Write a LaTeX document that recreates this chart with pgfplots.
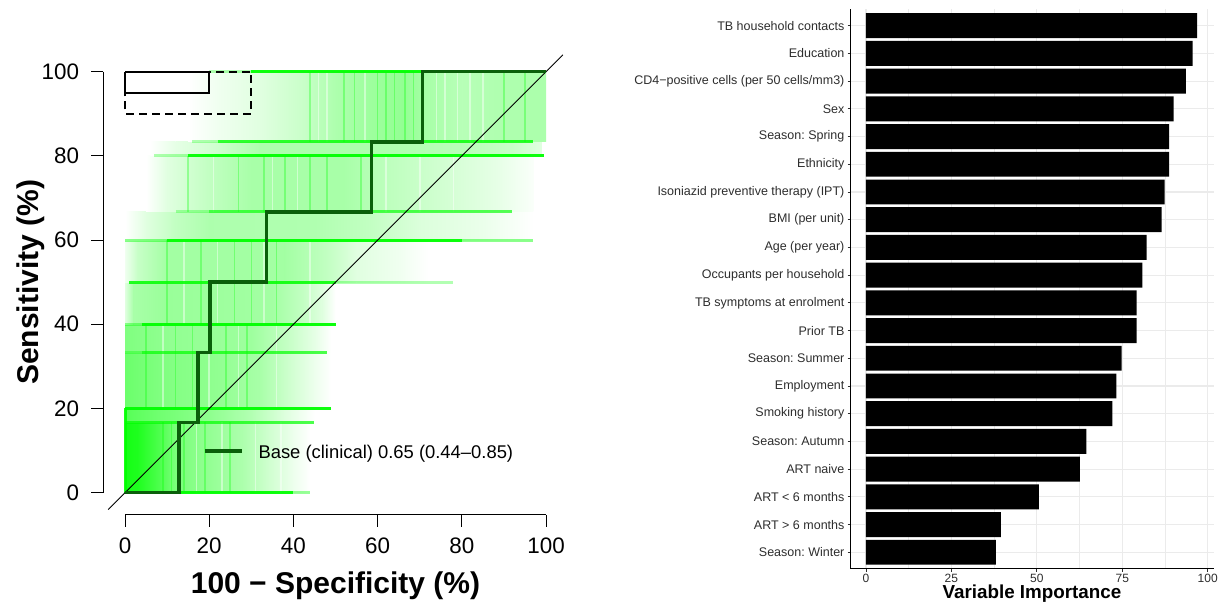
\documentclass[border=0pt]{standalone}
\usepackage{pgfplots}
\usepackage{pgfplotstable}
\pgfplotsset{compat=1.18}
\usepackage{fontspec}
\setmainfont{Liberation Sans}
\frenchspacing
\definecolor{rocdark}{RGB}{10,95,10}
\definecolor{gridgray}{RGB}{235,235,235}
\definecolor{labgray}{RGB}{45,45,45}
\newcommand{\fs}[1]{\fontsize{#1bp}{#1bp}\selectfont}
% shaded segment: y0 y1 xa xb alphaLeft alphaRight (percent green over white)
\newcommand{\sg}[6]{\addplot[draw=none, left color=green!#5!white, right color=green!#6!white, forget plot] coordinates {(#3,#1) (#4,#1) (#4,#2) (#3,#2)};}
\newcommand{\hl}[4]{\addplot[green, line width=3bp, draw opacity=#4, forget plot] coordinates {(#2,#1) (#3,#1)};}

\pgfplotstableread{
pos val
1 38.0
2 39.5
3 50.6
4 62.6
5 64.5
6 72.1
7 73.3
8 74.8
9 79.2
10 79.2
11 80.9
12 82.1
13 86.5
14 87.4
15 88.7
16 88.7
17 90.0
18 93.6
19 95.6
20 96.9
}\imp

\begin{document}
\begin{tikzpicture}[x=1bp,y=1bp]
\useasboundingbox (0,0) rectangle (1221,608);

% ---------------- left: ROC ----------------
\begin{axis}[at={(108.16bp,98.5bp)}, anchor=south west,
  width=454.7bp, height=454.7bp, scale only axis,
  xmin=-4, xmax=104, ymin=-4, ymax=104,
  hide axis, clip=false, unbounded coords=jump]
% bootstrap cloud, band by band
\sg{0}{16.67}{0}{3}{92}{88}
\sg{0}{16.67}{3}{8}{88}{70}
\sg{0}{16.67}{8}{12}{70}{52}
\sg{0}{16.67}{12}{20}{52}{42}
\sg{0}{16.67}{20}{28}{42}{32}
\sg{0}{16.67}{28}{34}{32}{19}
\sg{0}{16.67}{34}{40}{19}{7}
\sg{0}{16.67}{40}{44}{7}{0}
\sg{16.67}{20}{0}{8}{66}{56}
\sg{16.67}{20}{8}{20}{56}{44}
\sg{16.67}{20}{20}{30}{44}{30}
\sg{16.67}{20}{30}{38}{30}{13}
\sg{16.67}{20}{38}{45}{13}{0}
\sg{20}{33.33}{0}{8}{58}{50}
\sg{20}{33.33}{8}{22}{50}{43}
\sg{20}{33.33}{22}{32}{43}{34}
\sg{20}{33.33}{32}{40}{34}{17}
\sg{20}{33.33}{40}{45}{17}{7}
\sg{20}{33.33}{45}{49}{7}{0}
\sg{33.33}{40}{0}{10}{50}{43}
\sg{33.33}{40}{10}{30}{43}{38}
\sg{33.33}{40}{30}{38}{38}{24}
\sg{33.33}{40}{38}{45}{24}{10}
\sg{33.33}{40}{45}{49}{10}{0}
\sg{40}{50}{0}{2}{12}{34}
\sg{40}{50}{2}{10}{34}{40}
\sg{40}{50}{10}{35}{40}{36}
\sg{40}{50}{35}{42}{36}{24}
\sg{40}{50}{42}{47}{24}{12}
\sg{40}{50}{47}{50}{12}{0}
\sg{50}{60}{0}{3}{6}{22}
\sg{50}{60}{3}{10}{22}{36}
\sg{50}{60}{10}{38}{36}{36}
\sg{50}{60}{38}{48}{36}{24}
\sg{50}{60}{48}{55}{24}{12}
\sg{50}{60}{55}{65}{12}{6}
\sg{50}{60}{65}{72}{6}{0}
\sg{60}{66.67}{0}{5}{0}{12}
\sg{60}{66.67}{5}{12}{12}{24}
\sg{60}{66.67}{12}{20}{24}{32}
\sg{60}{66.67}{20}{45}{32}{31}
\sg{60}{66.67}{45}{58}{31}{24}
\sg{60}{66.67}{58}{70}{24}{14}
\sg{60}{66.67}{70}{85}{14}{8}
\sg{60}{66.67}{85}{97}{8}{0}
\sg{66.67}{80}{5}{10}{0}{12}
\sg{66.67}{80}{10}{20}{12}{24}
\sg{66.67}{80}{20}{30}{24}{34}
\sg{66.67}{80}{30}{52}{34}{34}
\sg{66.67}{80}{52}{62}{34}{26}
\sg{66.67}{80}{62}{75}{26}{18}
\sg{66.67}{80}{75}{88}{18}{10}
\sg{66.67}{80}{88}{97}{10}{2}
\sg{80}{83.33}{6}{12}{0}{10}
\sg{80}{83.33}{12}{22}{10}{19}
\sg{80}{83.33}{22}{32}{19}{32}
\sg{80}{83.33}{32}{58}{32}{32}
\sg{80}{83.33}{58}{80}{32}{28}
\sg{80}{83.33}{80}{92}{28}{21}
\sg{80}{83.33}{92}{99}{21}{12}
\sg{83.33}{100}{15}{22}{0}{6}
\sg{83.33}{100}{22}{32}{6}{12}
\sg{83.33}{100}{32}{42}{12}{21}
\sg{83.33}{100}{42}{50}{21}{32}
\sg{83.33}{100}{50}{58}{32}{38}
\sg{83.33}{100}{58}{66}{38}{42}
\sg{83.33}{100}{66}{72}{42}{34}
\sg{83.33}{100}{72}{80}{34}{28}
\sg{83.33}{100}{80}{88}{28}{31}
\sg{83.33}{100}{88}{100}{31}{33}
% streak texture (denser and lighter vertical runs)
\addplot[green, line width=1.6bp, draw opacity=0.3, forget plot] coordinates {
(44,83.33)(44,100)(44,nan) (52,83.33)(52,100)(52,nan) (54.5,83.33)(54.5,100)(54.5,nan)
(60,83.33)(60,100)(60,nan) (62,83.33)(62,100)(62,nan) (64,83.33)(64,100)(64,nan)
(66.5,83.33)(66.5,100)(66.5,nan) (68.5,83.33)(68.5,100)(68.5,nan) (90,83.33)(90,100)(90,nan) (95,83.33)(95,100)(95,nan)
(15,66.67)(15,80)(15,nan) (27,66.67)(27,80)(27,nan) (33,66.67)(33,80)(33,nan) (38,66.67)(38,80)(38,nan)
(44,66.67)(44,80)(44,nan) (48,66.67)(48,80)(48,nan) (56,66.67)(56,80)(56,nan)
(10,40)(10,60)(10,nan) (18,40)(18,60)(18,nan) (26,40)(26,60)(26,nan) (30,40)(30,60)(30,nan) (36,40)(36,60)(36,nan)
(5,20)(5,40)(5,nan) (12,20)(12,40)(12,nan) (16,20)(16,40)(16,nan) (24,20)(24,40)(24,nan) (29,20)(29,40)(29,nan)
(9,0)(9,16.67)(9,nan) (11,0)(11,16.67)(11,nan) (14,0)(14,16.67)(14,nan) (19,0)(19,16.67)(19,nan) (25,0)(25,16.67)(25,nan)
};
\addplot[white, line width=1.6bp, draw opacity=0.45, forget plot] coordinates {
(46,83.33)(46,100)(46,nan) (48,83.33)(48,100)(48,nan) (57,83.33)(57,100)(57,nan) (74,83.33)(74,100)(74,nan)
(76,83.33)(76,100)(76,nan) (79,83.33)(79,100)(79,nan) (82,83.33)(82,100)(82,nan) (85,83.33)(85,100)(85,nan)
(21,66.67)(21,80)(21,nan) (35,66.67)(35,80)(35,nan) (41,66.67)(41,80)(41,nan) (62,66.67)(62,80)(62,nan) (70,66.67)(70,80)(70,nan) (78,66.67)(78,80)(78,nan)
(14,40)(14,60)(14,nan) (22,40)(22,60)(22,nan) (33,40)(33,60)(33,nan) (44,40)(44,60)(44,nan)
(9,20)(9,40)(9,nan) (20,20)(20,40)(20,nan) (27,20)(27,40)(27,nan) (36,20)(36,40)(36,nan)
(17,0)(17,16.67)(17,nan) (23,0)(23,16.67)(23,nan) (31,0)(31,16.67)(31,nan) (37,0)(37,16.67)(37,nan)
};
% horizontal concentrations
\hl{100}{20}{30}{0.3}
\hl{100}{30}{71}{0.95}
\hl{83.33}{16}{22}{0.3}
\hl{83.33}{22}{97}{0.8}
\hl{80}{7}{15}{0.3}
\hl{80}{15}{99.5}{0.95}
\hl{66.67}{12}{20}{0.3}
\hl{66.67}{20}{92}{0.65}
\hl{60}{0}{10}{0.45}
\hl{60}{10}{80}{0.95}
\hl{60}{80}{97}{0.45}
\hl{50}{1}{50}{0.85}
\hl{50}{50}{78}{0.3}
\hl{40}{0}{4}{0.4}
\hl{40}{4}{50}{0.95}
\hl{33.33}{0}{4}{0.35}
\hl{33.33}{4}{48}{0.7}
\hl{20}{0}{49}{0.95}
\hl{16.67}{0}{45}{0.7}
\hl{0}{13}{40}{0.95}
\hl{0}{40}{44}{0.4}
\addplot[green, line width=3bp, draw opacity=0.9, forget plot] coordinates {(0,0) (0,20)};
% diagonal
\addplot[black, line width=0.9bp] coordinates {(-4,-4) (104,104)};
% main ROC
\addplot[rocdark, line width=3.5bp] coordinates {(0,0) (12.83,0) (12.83,16.67) (17.3,16.67) (17.3,33.33) (20.2,33.33) (20.2,50) (33.6,50) (33.6,66.67) (58.6,66.67) (58.6,83.33) (70.7,83.33) (70.7,100) (100,100)};
% target boxes
\addplot[black, line width=2bp, dash pattern=on 8bp off 5bp] coordinates {(0,100) (30,100) (30,90) (0,90) (0,100)};
\addplot[black, line width=2bp] coordinates {(0,100) (20,100) (20,95) (0,95) (0,100)};
% axes
\draw[black, line width=1bp] (axis cs:-5.15,0) -- (axis cs:-5.15,100);
\draw[black, line width=1bp] (axis cs:0,-5.3) -- (axis cs:100,-5.3);
\pgfplotsinvokeforeach{0,20,40,60,80,100}{
  \draw[black, line width=1bp] (axis cs:-5.15,#1) -- ([xshift=-12bp]axis cs:-5.15,#1);
  \draw[black, line width=1bp] (axis cs:#1,-5.3) -- ([yshift=-12bp]axis cs:#1,-5.3);
  \node[anchor=east, inner sep=0pt, xshift=-24bp, font=\fs{22.4}] at (axis cs:-5.15,#1) {#1};
  \node[anchor=center, inner sep=0pt, yshift=-31bp, font=\fs{22.4}] at (axis cs:#1,-5.3) {#1};
}
\end{axis}
\node[anchor=base, inner sep=0pt, font=\fs{30}\bfseries] at (335.5,14) {100 − Specificity (\%)};
\node[anchor=base, inner sep=0pt, rotate=90, font=\fs{30}\bfseries] at (38.5,325.8) {Sensitivity (\%)};
\draw[rocdark, line width=3.5bp] (205,157) -- (241.7,157);
\node[anchor=base west, inner sep=0pt, font=\fs{18.4}] at (258.3,149.3) {Base (clinical) 0.65 (0.44–0.85)};

% ---------------- right: variable importance ----------------
\begin{axis}[at={(850.6bp,39.1bp)}, anchor=south west,
  width=362.9bp, height=559.8bp, scale only axis,
  xmin=-4.5, xmax=101.7, ymin=0.4, ymax=20.6,
  xbar, bar width=0.9, bar shift=0pt,
  axis lines*=left,
  axis line style={black, line width=1bp},
  xtick={0,25,50,75,100}, minor xtick={12.5,37.5,62.5,87.5},
  ytick={1,...,20},
  yticklabels={Season: Winter, ART > 6 months, ART < 6 months, ART naive, Season: Autumn, Smoking history, Employment, Season: Summer, Prior TB, TB symptoms at enrolment, Occupants per household, Age (per year), BMI (per unit), Isoniazid preventive therapy (IPT), Ethnicity, Season: Spring, Sex, CD4−positive cells (per 50 cells/mm3), Education, TB household contacts},
  xmajorgrids, ymajorgrids, xminorgrids,
  major grid style={gridgray, line width=1.1bp},
  minor grid style={gridgray, line width=0.55bp},
  tick align=outside, major tick length=3bp, minor tick length=0pt,
  tick style={labgray, line width=0.8bp},
  yticklabel style={font=\fs{12.5}, text=labgray, inner sep=0pt, anchor=east, xshift=-3bp},
  xticklabel style={font=\fs{12}, text=labgray, inner sep=0pt, anchor=north, yshift=-2bp},
  /pgf/number format/assume math mode=true]
\addplot[fill=black, draw=none] table[x=val, y=pos] {\imp};
\end{axis}
\node[anchor=base, inner sep=0pt, font=\fs{18.8}\bfseries] at (1032,9) {Variable Importance};
\end{tikzpicture}
\end{document}
